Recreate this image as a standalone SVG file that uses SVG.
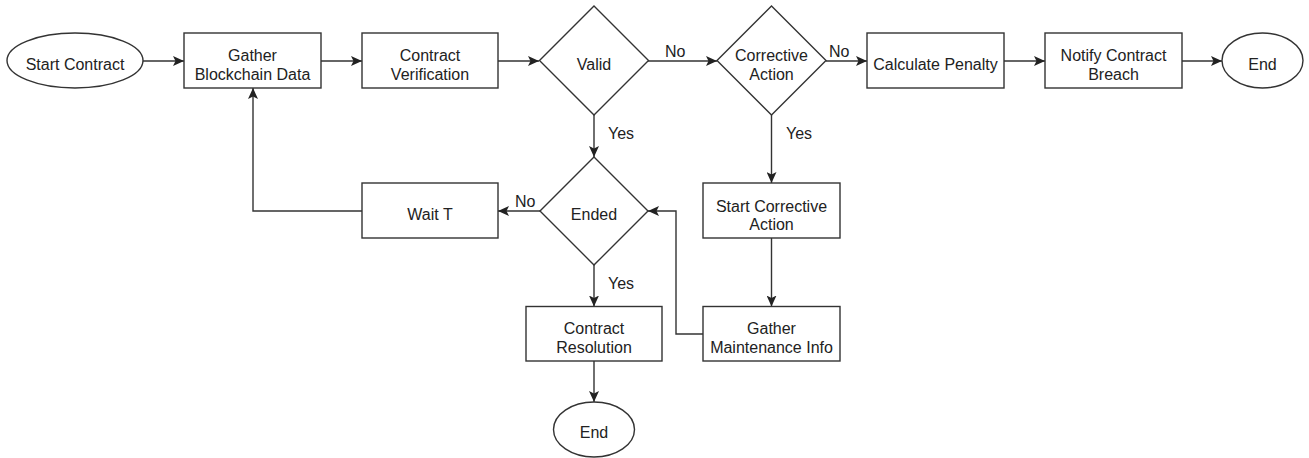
<svg xmlns="http://www.w3.org/2000/svg" width="1309" height="458" viewBox="0 0 1309 458">
<style>
.s{fill:#fff;stroke:#333;stroke-width:1.4}
.t{font-family:"Liberation Sans",Arial,sans-serif;font-size:16px;fill:#222;text-anchor:middle}
.l{font-family:"Liberation Sans",Arial,sans-serif;font-size:16px;fill:#222}
.c{fill:none;stroke:#333;stroke-width:1.4;marker-end:url(#a)}
</style>
<defs>
<marker id="a" markerUnits="userSpaceOnUse" markerWidth="12" markerHeight="10" viewBox="0 0 12 10" refX="11" refY="5" orient="auto">
<path d="M0,0 L11,5 L0,10 L2.5,5 Z" fill="#222"/>
</marker>
</defs>
<rect width="1309" height="458" fill="#fff"/>
<g id="connectors">
<path class="c" d="M143,61 H184"/>
<path class="c" d="M321,61 H362"/>
<path class="c" d="M498,61 H539"/>
<path class="c" d="M648,61 H717"/>
<path class="c" d="M826,61 H867"/>
<path class="c" d="M1004,61 H1045"/>
<path class="c" d="M1182,61 H1222"/>
<path class="c" d="M594,115 V157"/>
<path class="c" d="M771.5,115 V183"/>
<path class="c" d="M771.5,238 V306.5"/>
<path class="c" d="M703,334 H676 V211 H648"/>
<path class="c" d="M540,211 H498"/>
<path class="c" d="M362,211 H253 V88"/>
<path class="c" d="M594,265 V306.5"/>
<path class="c" d="M594,361 V402"/>
<text class="l" x="665" y="57">No</text>
<text class="l" x="829" y="57">No</text>
<text class="l" x="608" y="139">Yes</text>
<text class="l" x="786" y="139">Yes</text>
<text class="l" x="515" y="207">No</text>
<text class="l" x="608" y="289">Yes</text>
</g>
<g id="start">
<ellipse class="s" cx="75" cy="60.5" rx="68" ry="27.5"/>
<text class="t" x="75" y="70">Start Contract</text>
</g>
<g id="gather-blockchain">
<rect class="s" x="184" y="33" width="137" height="55"/>
<text class="t" x="252.5" y="61">Gather</text>
<text class="t" x="252.5" y="79.5">Blockchain Data</text>
</g>
<g id="contract-verification">
<rect class="s" x="362" y="33" width="136" height="55"/>
<text class="t" x="430" y="61">Contract</text>
<text class="t" x="430" y="79.5">Verification</text>
</g>
<g id="valid">
<polygon class="s" points="594,6 648.5,60.5 594,115 539.5,60.5"/>
<text class="t" x="594" y="70">Valid</text>
</g>
<g id="corrective-action">
<polygon class="s" points="771.5,6 826,60.5 771.5,115 717,60.5"/>
<text class="t" x="771.5" y="61">Corrective</text>
<text class="t" x="771.5" y="79.5">Action</text>
</g>
<g id="calculate-penalty">
<rect class="s" x="867" y="33" width="137" height="55"/>
<text class="t" x="935.5" y="70">Calculate Penalty</text>
</g>
<g id="notify-breach">
<rect class="s" x="1045" y="33" width="137" height="55"/>
<text class="t" x="1113.5" y="61">Notify Contract</text>
<text class="t" x="1113.5" y="79.5">Breach</text>
</g>
<g id="end-top">
<ellipse class="s" cx="1262.5" cy="60.5" rx="40.5" ry="27.5"/>
<text class="t" x="1262.5" y="70">End</text>
</g>
<g id="ended">
<polygon class="s" points="594,157 648,211 594,265 540,211"/>
<text class="t" x="594" y="220">Ended</text>
</g>
<g id="wait-t">
<rect class="s" x="362" y="183" width="136" height="55"/>
<text class="t" x="430" y="220">Wait T</text>
</g>
<g id="start-corrective">
<rect class="s" x="703" y="183" width="137" height="55"/>
<text class="t" x="771.5" y="211.5">Start Corrective</text>
<text class="t" x="771.5" y="230">Action</text>
</g>
<g id="gather-maintenance">
<rect class="s" x="703" y="306.5" width="137" height="54.5"/>
<text class="t" x="771.5" y="333.5">Gather</text>
<text class="t" x="771.5" y="353">Maintenance Info</text>
</g>
<g id="contract-resolution">
<rect class="s" x="526" y="306.5" width="136" height="54.5"/>
<text class="t" x="594" y="333.5">Contract</text>
<text class="t" x="594" y="353">Resolution</text>
</g>
<g id="end-bottom">
<ellipse class="s" cx="594" cy="429.5" rx="40.5" ry="27.5"/>
<text class="t" x="594" y="438">End</text>
</g>
</svg>
